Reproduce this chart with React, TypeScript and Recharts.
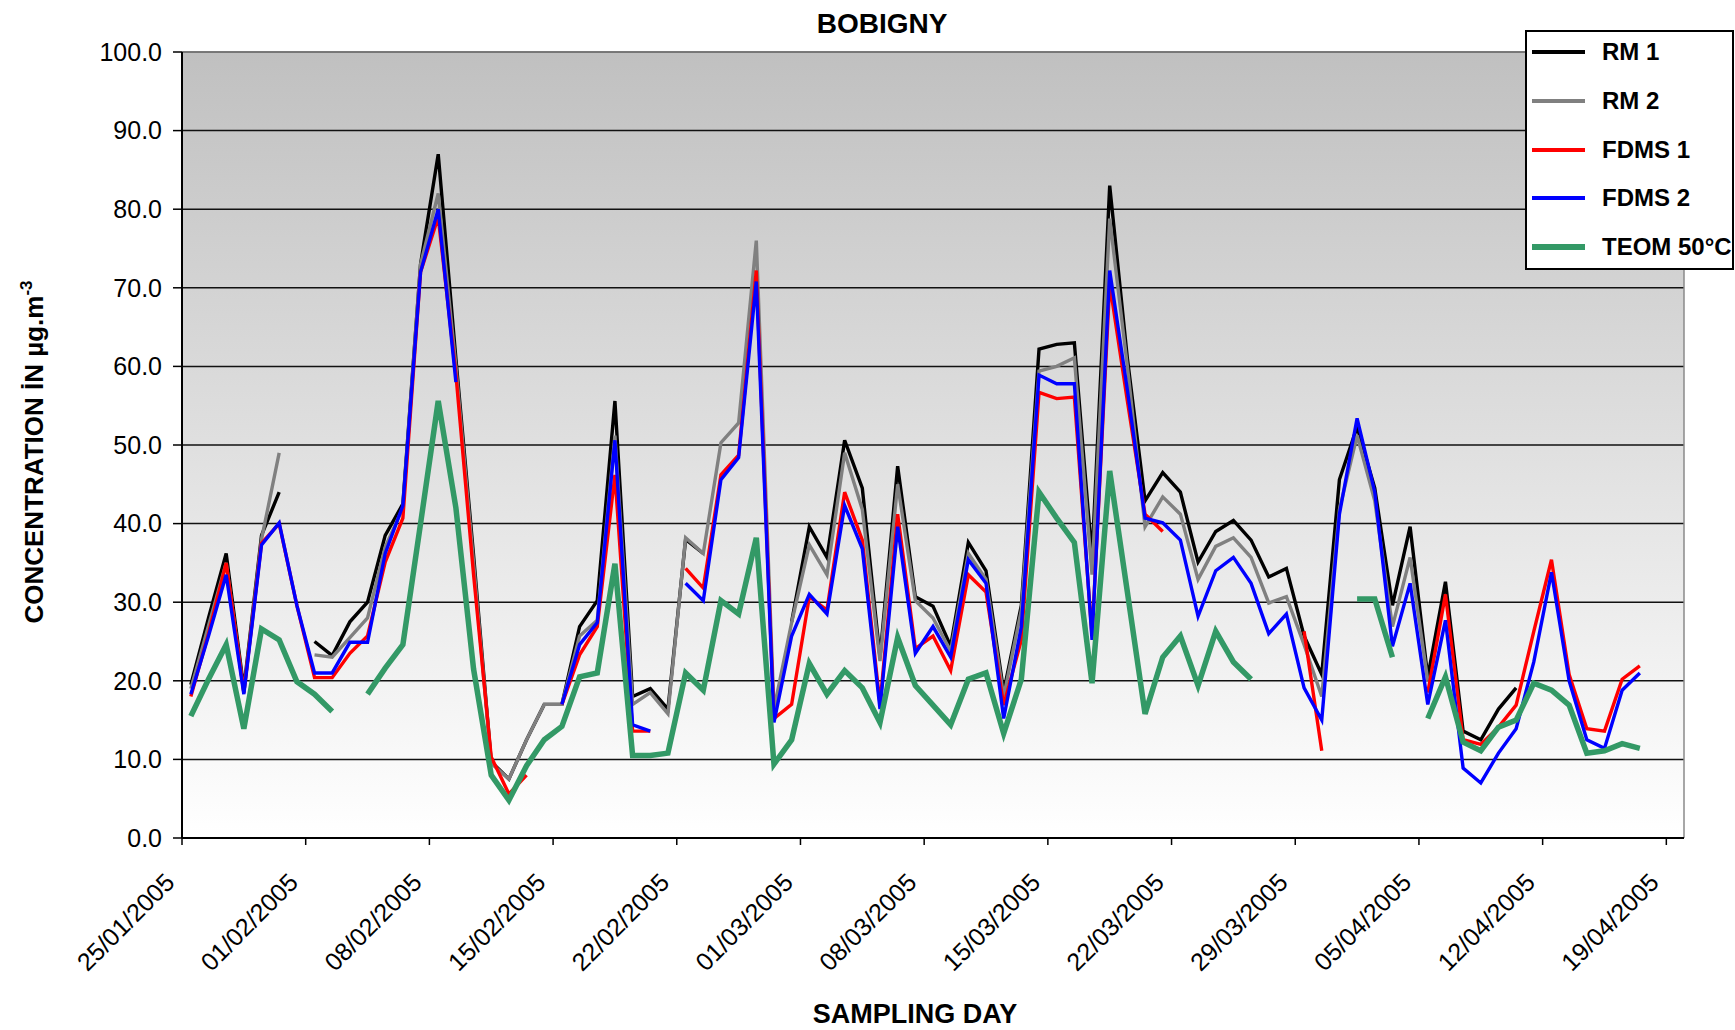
import React from 'react';
import { LineChart, Line, XAxis, YAxis, CartesianGrid, Legend, ReferenceLine, Label } from 'recharts';

const FONT = '"Liberation Sans", Arial, sans-serif';

// Sampling days (categories), 25/01/2005 .. 17/04/2005
const days = [
  '25/01/2005', '26/01/2005', '27/01/2005', '28/01/2005', '29/01/2005', '30/01/2005', '31/01/2005',
  '01/02/2005', '02/02/2005', '03/02/2005', '04/02/2005', '05/02/2005', '06/02/2005', '07/02/2005',
  '08/02/2005', '09/02/2005', '10/02/2005', '11/02/2005', '12/02/2005', '13/02/2005', '14/02/2005',
  '15/02/2005', '16/02/2005', '17/02/2005', '18/02/2005', '19/02/2005', '20/02/2005', '21/02/2005',
  '22/02/2005', '23/02/2005', '24/02/2005', '25/02/2005', '26/02/2005', '27/02/2005', '28/02/2005',
  '01/03/2005', '02/03/2005', '03/03/2005', '04/03/2005', '05/03/2005', '06/03/2005', '07/03/2005',
  '08/03/2005', '09/03/2005', '10/03/2005', '11/03/2005', '12/03/2005', '13/03/2005', '14/03/2005',
  '15/03/2005', '16/03/2005', '17/03/2005', '18/03/2005', '19/03/2005', '20/03/2005', '21/03/2005',
  '22/03/2005', '23/03/2005', '24/03/2005', '25/03/2005', '26/03/2005', '27/03/2005', '28/03/2005',
  '29/03/2005', '30/03/2005', '31/03/2005', '01/04/2005', '02/04/2005', '03/04/2005', '04/04/2005',
  '05/04/2005', '06/04/2005', '07/04/2005', '08/04/2005', '09/04/2005', '10/04/2005', '11/04/2005',
  '12/04/2005', '13/04/2005', '14/04/2005', '15/04/2005', '16/04/2005', '17/04/2005',
];

const rm1 = [
  19.5, 28, 36.2, 19, 38.5, 44, null, 25, 23.2, 27.5,
  30, 38.5, 42.5, 73, 87, 61, 36, 9.7, 7.5, 12.5,
  17, 17, 26.9, 30.2, 55.6, 18, 19, 16.4, 38, 36.2,
  null, null, null, null, 27.5, 39.6, 35.7, 50.6, 44.5, 23,
  47.3, 30.7, 29.5, 24.4, 37.6, 34, 18.6, 29.6, 62.2, 62.8,
  63, 35.7, 83, 61, 42.9, 46.5, 44, 35.1, 39, 40.4,
  37.9, 33.2, 34.3, 25.7, 20.8, 45.6, 52.3, 44.5, 29.6, 39.6,
  20.5, 32.6, 13.6, 12.5, 16.4, 19.1, null, null, null, null,
  null, null, null,
];

const rm2 = [
  19, 27, 35, 18.5, 38, 49, null, 23.3, 23, 25.5,
  28, 37, 42, 73, 82, 60, 35, 9.5, 7.5, 12.5,
  17, 17, 25.7, 27.7, 51.2, 17, 18.5, 15.8, 38.2, 36.2,
  50.3, 52.8, 76, 16.4, 27.4, 37.3, 33.5, 49, 41.8, 22.5,
  45, 30.2, 28, 23.8, 36.2, 32.9, 18, 29, 59.4, 60,
  61.1, 33.5, 78.8, 60, 39.6, 43.4, 41.2, 32.9, 37.1, 38.2,
  35.7, 29.9, 30.7, 24.6, 18, 41.8, 51.2, 42.9, 26.9, 35.7,
  20, null, null, null, null, null, null, null, null, null,
  null, null, null,
];

const fdms1 = [
  18, 26, 35, 18.5, 37.5, 40, 29.6, 20.4, 20.4, 23.5,
  25.7, 35.1, 40.7, 72, 79, 59, 33.5, 10.3, 5.6, 8,
  null, 17, 23.3, 26.9, 46.2, 13.6, 13.6, null, 34.3, 31.8,
  46.2, 48.7, 72.2, 15.2, 17, 30.7, 29, 44, 37.9, 17,
  41.2, 24.1, 25.7, 21.3, 33.5, 31.3, 16.9, 25.2, 56.7, 55.9,
  56.1, 25.7, 70.5, 55.6, 41.2, 39, null, null, null, null,
  null, null, null, 26.3, 11.1, null, null, null, null, null,
  18.5, 31, 12.5, 11.9, 14.1, 16.9, 26.3, 35.4, 20.8, 13.9,
  13.6, 20.2, 21.9,
];

const fdms2 = [
  18.3, 25.7, 33.5, 18.3, 37.3, 40.1, 29.6, 21, 21, 24.9,
  24.9, 36.2, 42.3, 72, 80, 58, null, null, null, null,
  null, 17, 24.6, 27.4, 50.6, 14.4, 13.6, null, 32.4, 30.2,
  45.6, 48.4, 70.8, 14.7, 25.7, 31, 28.5, 42.3, 36.8, 16.4,
  39.6, 23.5, 26.9, 23, 35.4, 32.4, 15.2, 26.9, 58.9, 57.8,
  57.8, 25.2, 72.2, 57, 40.7, 40.1, 37.9, 28.2, 34, 35.7,
  32.4, 26, 28.5, 19.1, 15, 41.2, 53.4, 44, 24.4, 32.4,
  17, 27.7, 8.9, 7, 10.8, 13.9, 22.4, 33.8, 20, 12.5,
  11.4, 18.8, 21,
];

const teom = [
  15.5, 20.2, 24.6, 13.9, 26.6, 25.2, 19.9, 18.3, 16.1, null,
  18.3, 21.6, 24.6, 40, 55.6, 42, 21.5, 8, 4.8, 9.2,
  12.5, 14.2, 20.5, 21, 34.9, 10.5, 10.5, 10.8, 21, 18.8,
  30.2, 28.5, 38.2, 9.4, 12.5, 22.2, 18.3, 21.3, 19.1, 14.7,
  25.5, 19.4, 16.9, 14.4, 20.2, 21, 13.3, 20.2, 44, 40.7,
  37.6, 19.7, 46.7, 31.3, 15.8, 23, 25.7, 19.4, 26.3, 22.4,
  20.2, null, null, null, null, null, 30.4, 30.4, 23, null,
  15.2, 20.5, 12.2, 11.1, 14.1, 15, 19.7, 18.8, 16.9, 10.8,
  11.1, 12, 11.4,
];

// Axis ticks (day index from 25/01/2005) and their labels
const xTicks = [0, 7, 14, 21, 28, 35, 42, 49, 56, 63, 70, 77, 84];
const xTickLabels = [
  '25/01/2005', '01/02/2005', '08/02/2005', '15/02/2005', '22/02/2005', '01/03/2005', '08/03/2005',
  '15/03/2005', '22/03/2005', '29/03/2005', '05/04/2005', '12/04/2005', '19/04/2005',
];
const yTicks = [0, 10, 20, 30, 40, 50, 60, 70, 80, 90, 100];

const series = [
  { key: 'rm1', name: 'RM 1', color: '#000000', width: 3.4 },
  { key: 'rm2', name: 'RM 2', color: '#808080', width: 3.4 },
  { key: 'fdms1', name: 'FDMS 1', color: '#FF0000', width: 3.4 },
  { key: 'fdms2', name: 'FDMS 2', color: '#0000FF', width: 3.4 },
  { key: 'teom', name: 'TEOM 50°C', color: '#339966', width: 5.5 },
];

// Points sit in the middle of each day slot (Excel date axis)
const data = days.map((day, i) => ({
  day,
  x: i + 0.5,
  rm1: rm1[i],
  rm2: rm2[i],
  fdms1: fdms1[i],
  fdms2: fdms2[i],
  teom: teom[i],
}));

const XTick = (props: any) => {
  const { x, y, payload } = props;
  const idx = xTicks.indexOf(payload.value);
  const ax = x - 6;
  const ay = y + 37;
  return (
    <text
      x={ax}
      y={ay}
      transform={`rotate(-45, ${ax}, ${ay})`}
      textAnchor="end"
      fontSize={25}
      fontFamily={FONT}
      fill="#000"
    >
      {xTickLabels[idx]}
    </text>
  );
};

const YTitle = () => (
  <text
    transform="translate(43,452) rotate(-90)"
    textAnchor="middle"
    fontSize={26}
    fontWeight="bold"
    fontFamily={FONT}
    fill="#000"
  >
    CONCENTRATION İN µg.m
    <tspan dy={-11} fontSize={17}>-3</tspan>
  </text>
);

const XTitle = () => (
  <text x={915} y={1023} textAnchor="middle" fontSize={27} fontWeight="bold" fontFamily={FONT} fill="#000">
    SAMPLING DAY
  </text>
);

const LegendBox = () => {
  const rowTops = [22, 70.75, 119.5, 168.25, 217];
  return (
    <div
      style={{
        position: 'relative',
        width: 209,
        height: 240,
        boxSizing: 'border-box',
        border: '2px solid #000',
        background: '#fff',
      }}
    >
      {series.map((s, i) => (
        <div key={s.key} style={{ position: 'absolute', left: 0, top: rowTops[i] - 2, width: 205 }}>
          <div
            style={{
              position: 'absolute',
              left: 5,
              top: -(s.width > 4 ? 3 : 2),
              width: 53,
              height: s.width > 4 ? 6 : 4,
              background: s.color,
            }}
          />
          <div
            style={{
              position: 'absolute',
              left: 75,
              top: -15,
              fontFamily: FONT,
              fontWeight: 'bold',
              fontSize: 24,
              lineHeight: '30px',
              whiteSpace: 'nowrap',
              color: '#000',
            }}
          >
            {s.name}
          </div>
        </div>
      ))}
    </div>
  );
};

export default function App() {
  return (
    <div style={{ position: 'absolute', left: 0, top: 0, width: 1735, height: 1030, background: '#fff', overflow: 'hidden' }}>
      <LineChart width={1735} height={1030} data={data} margin={{ top: 52, right: 51, left: 0, bottom: 0 }}>
        <defs>
          <linearGradient id="plotBg" x1="0" y1="0" x2="0" y2="1">
            <stop offset="0%" stopColor="#c0c0c0" />
            <stop offset="100%" stopColor="#ffffff" />
          </linearGradient>
        </defs>
        <CartesianGrid vertical={false} stroke="#111" strokeWidth={1.5} fill="url(#plotBg)" fillOpacity={1} />
        <XAxis
          type="number"
          dataKey="x"
          domain={[0, 85]}
          ticks={xTicks}
          interval={0}
          height={192}
          tick={<XTick />}
          tickSize={7}
          axisLine={{ stroke: '#000', strokeWidth: 2 }}
          tickLine={{ stroke: '#000', strokeWidth: 1.5 }}
        >
          <Label content={<XTitle />} />
        </XAxis>
        <YAxis
          type="number"
          domain={[0, 100]}
          ticks={yTicks}
          interval={0}
          width={182}
          tickSize={9}
          tickMargin={11}
          tickFormatter={(v: number) => v.toFixed(1)}
          tick={{ fontSize: 25, fill: '#000', fontFamily: FONT }}
          axisLine={{ stroke: '#000', strokeWidth: 2 }}
          tickLine={{ stroke: '#000', strokeWidth: 1.5 }}
        >
          <Label content={<YTitle />} />
        </YAxis>
        <ReferenceLine y={100} stroke="#8a8a8a" strokeWidth={1.5} />
        <ReferenceLine x={85} stroke="#8a8a8a" strokeWidth={1.5} />
        {series.map((s) => (
          <Line
            key={s.key}
            type="linear"
            dataKey={s.key}
            name={s.name}
            stroke={s.color}
            strokeWidth={s.width}
            dot={false}
            activeDot={false}
            connectNulls={false}
            isAnimationActive={false}
          />
        ))}
        <Legend
          layout="vertical"
          align="center"
          verticalAlign="middle"
          wrapperStyle={{ position: 'absolute', left: 1525, top: 30, width: 209, height: 240, margin: 0 }}
          content={<LegendBox />}
        />
      </LineChart>
      <svg width={1735} height={60} style={{ position: 'absolute', left: 0, top: 0, pointerEvents: 'none' }}>
        <text x={882} y={33} textAnchor="middle" fontSize={28} fontWeight="bold" fontFamily={FONT} fill="#000">
          BOBIGNY
        </text>
      </svg>
    </div>
  );
}
